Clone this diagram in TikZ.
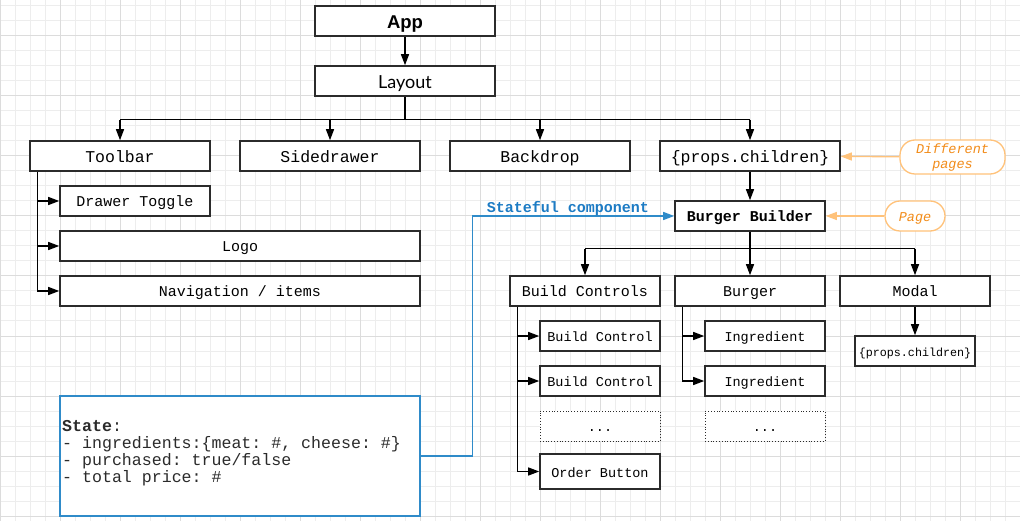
\documentclass[tikz,border=0pt]{standalone}
\usepackage{fontspec}
\setmainfont{Liberation Sans}
\setmonofont{Liberation Mono}
\newfontfamily\layoutfont{Lato}
\usetikzlibrary{arrows.meta, positioning, calc}

\definecolor{boxline}{HTML}{2B2B2B}
\definecolor{gridminor}{HTML}{EDEDED}
\definecolor{gridmajor}{HTML}{DCDCDC}
\definecolor{noteline}{HTML}{FFC27A}
\definecolor{notetext}{HTML}{F28C1A}
\definecolor{stateline}{HTML}{2F8BC9}
\definecolor{statetext}{HTML}{1C7BC4}

\newcommand\fsz[1]{\fontsize{#1}{#1}\selectfont}

\begin{document}
\begin{tikzpicture}[x=1pt, y=-1pt, >={Triangle[length=11pt,width=8pt]},
  box/.style={draw=boxline, line width=1.6pt, fill=white, minimum height=30pt, inner sep=0pt, text height=13pt, text depth=0pt, font=\ttfamily\fsz{16.5}},
  sub/.style={box, text height=12pt, font=\ttfamily\fsz{15}},
  small/.style={box, text height=11pt, font=\ttfamily\fsz{13.5}},
  dots/.style={small, line width=0.8pt, dotted},
  note/.style={draw=noteline, line width=1.3pt, fill=white, rounded corners=15pt, minimum height=30pt, inner sep=0pt, text height=11pt, text depth=0pt, font=\ttfamily\itshape\fsz{13.5}, text=notetext, align=center},
  edge/.style={->, line width=1.4pt, draw=black}]

\useasboundingbox (0,0) rectangle (1020,521);

% Background grid
\foreach \x in {0,15,...,1020} \draw[gridminor, line width=1pt] (\x,0) -- (\x,521);
\foreach \y in {6,21,...,516} \draw[gridminor, line width=1pt] (0,\y) -- (1020,\y);
\foreach \x in {0,60,...,1020} \draw[gridmajor, line width=1pt] (\x,0) -- (\x,521);
\foreach \y in {36,96,...,516} \draw[gridmajor, line width=1pt] (0,\y) -- (1020,\y);

% Top
\node[box, minimum width=180pt, text height=15pt, font=\bfseries\fsz{18.5}] (app) at (405,21) {App};
\node[box, minimum width=180pt, text height=15pt, font=\layoutfont\fsz{18}] (layout) at (405,81) {Layout};

% Layout children
\node[box, minimum width=180pt] (toolbar) at (120,156) {Toolbar};
\node[box, minimum width=180pt] (sidedrawer) at (330,156) {Sidedrawer};
\node[box, minimum width=180pt] (backdrop) at (540,156) {Backdrop};
\node[box, minimum width=180pt] (props) at (750,156) {\{props.children\}};

% Toolbar children
\node[sub, minimum width=150pt] (drawer) at (135,201) {Drawer Toggle};
\node[sub, minimum width=360pt] (logo) at (240,246) {Logo};
\node[sub, minimum width=360pt] (nav) at (240,291) {Navigation / items};

% Page
\node[sub, minimum width=150pt, font=\ttfamily\bfseries\fsz{15}] (bb) at (750,216) {Burger Builder};
\node[note, minimum width=105pt, minimum height=34pt, text height=27pt, text depth=3pt] (diffpages) at (952.5,157) {Different\\[1.5pt]pages};
\node[note, minimum width=60pt] (page) at (915,216) {Page};

% Burger Builder children
\node[sub, minimum width=150pt] (buildctrls) at (585,291) {Build Controls};
\node[sub, minimum width=150pt] (burger) at (750,291) {Burger};
\node[sub, minimum width=150pt] (modal) at (915,291) {Modal};

\node[small, minimum width=120pt] (bc1) at (600,336) {Build Control};
\node[small, minimum width=120pt] (bc2) at (600,381) {Build Control};
\node[dots, minimum width=120pt] (bcdots) at (600,426) {...};
\node[small, minimum width=120pt, minimum height=35pt] (order) at (600,471.5) {Order Button};

\node[small, minimum width=120pt] (ing1) at (765,336) {Ingredient};
\node[small, minimum width=120pt] (ing2) at (765,381) {Ingredient};
\node[dots, minimum width=120pt] (ingdots) at (765,426) {...};

\node[small, minimum width=120pt, text height=10pt, font=\ttfamily\fsz{11.7}] (modalprops) at (915,351) {\{props.children\}};

% State
\node[draw=stateline, line width=1.4pt, fill=white, minimum width=360pt, minimum height=120pt] (state) at (240,456) {};
\node[anchor=west, inner sep=0pt, align=left, text=boxline, font=\ttfamily\fontsize{16.6}{17}\selectfont] (statetxt) at (62,453)
  {\textbf{State}:\\- ingredients:\{meat: \#, cheese: \#\}\\- purchased: true/false\\- total price: \#};

% Connections
\draw[edge] (app) -- (layout);
\draw[line width=1.4pt] (layout.south) -- ++(0,23) coordinate (lbus);
\draw[line width=1.4pt] (lbus -| toolbar) -- (lbus -| props);
\foreach \n in {toolbar,sidedrawer,backdrop,props}
  \draw[edge] (lbus -| \n) -- (\n);

\foreach \n in {drawer,logo,nav}
  \draw[edge] ([xshift=8pt]toolbar.south west) |- (\n);

\draw[edge] (props) -- (bb);
\draw[line width=1.4pt] (bb.south) -- ++(0,17) coordinate (bbus);
\draw[line width=1.4pt] (bbus -| buildctrls) -- (bbus -| modal);
\foreach \n in {buildctrls,burger,modal}
  \draw[edge] (bbus -| \n) -- (\n);

\foreach \n in {bc1,bc2,order}
  \draw[edge] ([xshift=8pt]buildctrls.south west) |- (\n);
\foreach \n in {ing1,ing2}
  \draw[edge] ([xshift=8pt]burger.south west) |- (\n);
\draw[edge] (modal) -- (modalprops);

% Notes
\draw[edge, draw=noteline, line width=1.3pt] (diffpages) -- (props);
\draw[edge, draw=noteline, line width=1.3pt] (page) -- (bb);

% Stateful link
\draw[edge, draw=stateline, line width=1.4pt] (state.east) -- ++(52,0) |- (bb.west);
\node[text=statetext, font=\ttfamily\bfseries\fsz{15}] (statelbl) at (568,208.5) {Stateful component};

\end{tikzpicture}
\end{document}
